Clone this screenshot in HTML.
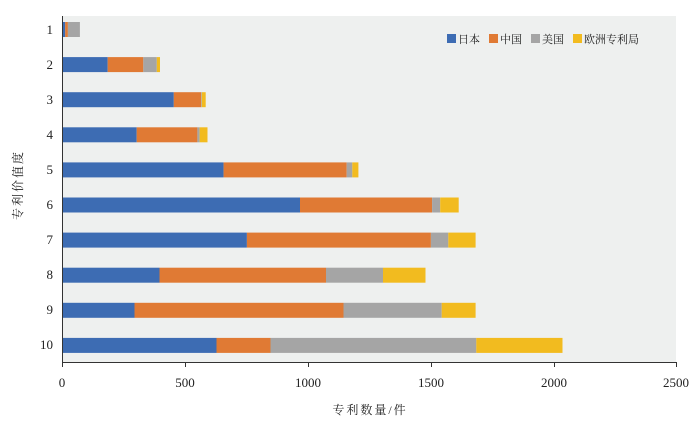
<!DOCTYPE html>
<html><head><meta charset="utf-8"><style>body{margin:0;background:#fff}svg{display:block}</style></head>
<body>
<svg width="700" height="426" xmlns="http://www.w3.org/2000/svg" font-family="Liberation Serif, Noto Serif CJK SC, serif">
<rect x="62" y="16" width="614" height="346" fill="#eef0ef"/>
<g>
<rect x="62.5" y="22" width="2.7" height="15" fill="#3d6cb3"/><rect x="65.2" y="22" width="2.7" height="15" fill="#e07a34"/><rect x="67.9" y="22" width="12" height="15" fill="#a5a5a5"/>
<rect x="62.5" y="57.1" width="45.2" height="15" fill="#3d6cb3"/><rect x="107.7" y="57.1" width="35.6" height="15" fill="#e07a34"/><rect x="143.3" y="57.1" width="13.5" height="15" fill="#a5a5a5"/><rect x="156.8" y="57.1" width="3.2" height="15" fill="#f2bb1f"/>
<rect x="62.5" y="92.2" width="111.3" height="15" fill="#3d6cb3"/><rect x="173.8" y="92.2" width="27.3" height="15" fill="#e07a34"/><rect x="201.1" y="92.2" width="0.7" height="15" fill="#a5a5a5"/><rect x="201.8" y="92.2" width="3.9" height="15" fill="#f2bb1f"/>
<rect x="62.5" y="127.3" width="74.2" height="15" fill="#3d6cb3"/><rect x="136.7" y="127.3" width="60.7" height="15" fill="#e07a34"/><rect x="197.4" y="127.3" width="2.2" height="15" fill="#a5a5a5"/><rect x="199.6" y="127.3" width="7.9" height="15" fill="#f2bb1f"/>
<rect x="62.5" y="162.4" width="161.1" height="15" fill="#3d6cb3"/><rect x="223.6" y="162.4" width="123.1" height="15" fill="#e07a34"/><rect x="346.7" y="162.4" width="5.6" height="15" fill="#a5a5a5"/><rect x="352.3" y="162.4" width="6.1" height="15" fill="#f2bb1f"/>
<rect x="62.5" y="197.5" width="237.5" height="15" fill="#3d6cb3"/><rect x="300" y="197.5" width="132.1" height="15" fill="#e07a34"/><rect x="432.1" y="197.5" width="8.1" height="15" fill="#a5a5a5"/><rect x="440.2" y="197.5" width="18.5" height="15" fill="#f2bb1f"/>
<rect x="62.5" y="232.6" width="184.4" height="15" fill="#3d6cb3"/><rect x="246.9" y="232.6" width="184" height="15" fill="#e07a34"/><rect x="430.9" y="232.6" width="17.4" height="15" fill="#a5a5a5"/><rect x="448.3" y="232.6" width="27.3" height="15" fill="#f2bb1f"/>
<rect x="62.5" y="267.7" width="97" height="15" fill="#3d6cb3"/><rect x="159.5" y="267.7" width="166.5" height="15" fill="#e07a34"/><rect x="326" y="267.7" width="57" height="15" fill="#a5a5a5"/><rect x="383" y="267.7" width="42.5" height="15" fill="#f2bb1f"/>
<rect x="62.5" y="302.8" width="72" height="15" fill="#3d6cb3"/><rect x="134.5" y="302.8" width="209" height="15" fill="#e07a34"/><rect x="343.5" y="302.8" width="98.2" height="15" fill="#a5a5a5"/><rect x="441.7" y="302.8" width="33.9" height="15" fill="#f2bb1f"/>
<rect x="62.5" y="337.9" width="154" height="15" fill="#3d6cb3"/><rect x="216.5" y="337.9" width="54" height="15" fill="#e07a34"/><rect x="270.5" y="337.9" width="205.8" height="15" fill="#a5a5a5"/><rect x="476.3" y="337.9" width="86.2" height="15" fill="#f2bb1f"/>
</g>
<line x1="62.5" y1="16" x2="62.5" y2="363" stroke="#333" stroke-width="1"/>
<line x1="62" y1="362.5" x2="676" y2="362.5" stroke="#333" stroke-width="1"/>
<g stroke="#333">
<line x1="62.5" y1="362" x2="62.5" y2="367"/><line x1="185.5" y1="362" x2="185.5" y2="367"/><line x1="308.5" y1="362" x2="308.5" y2="367"/><line x1="431.5" y1="362" x2="431.5" y2="367"/><line x1="554.5" y1="362" x2="554.5" y2="367"/><line x1="676.5" y1="362" x2="676.5" y2="367"/>
</g>
<g font-size="13" fill="#222" text-anchor="middle">
<text x="62" y="387">0</text><text x="185" y="387">500</text><text x="308" y="387">1000</text><text x="431" y="387">1500</text><text x="554" y="387">2000</text><text x="676" y="387">2500</text>
</g>
<g font-size="13" fill="#222" text-anchor="end">
<text x="53" y="34">1</text><text x="53" y="69">2</text><text x="53" y="104">3</text><text x="53" y="139">4</text><text x="53" y="174">5</text><text x="53" y="209">6</text><text x="53" y="244">7</text><text x="53" y="279">8</text><text x="53" y="314">9</text><text x="53" y="349">10</text>
</g>
<text x="370" y="414" font-size="12" text-anchor="middle" fill="#222" letter-spacing="2">专利数量/件</text>
<text transform="translate(22,185) rotate(-90)" font-size="12" text-anchor="middle" fill="#222" letter-spacing="2">专利价值度</text>
<g font-size="11" fill="#222">
<rect x="447" y="34" width="9" height="9" fill="#3d6cb3"/><text x="458" y="43">日本</text>
<rect x="489" y="34" width="9" height="9" fill="#e07a34"/><text x="500" y="43">中国</text>
<rect x="531" y="34" width="9" height="9" fill="#a5a5a5"/><text x="542" y="43">美国</text>
<rect x="573" y="34" width="9" height="9" fill="#f2bb1f"/><text x="584" y="43">欧洲专利局</text>
</g>
</svg>
</body></html>
